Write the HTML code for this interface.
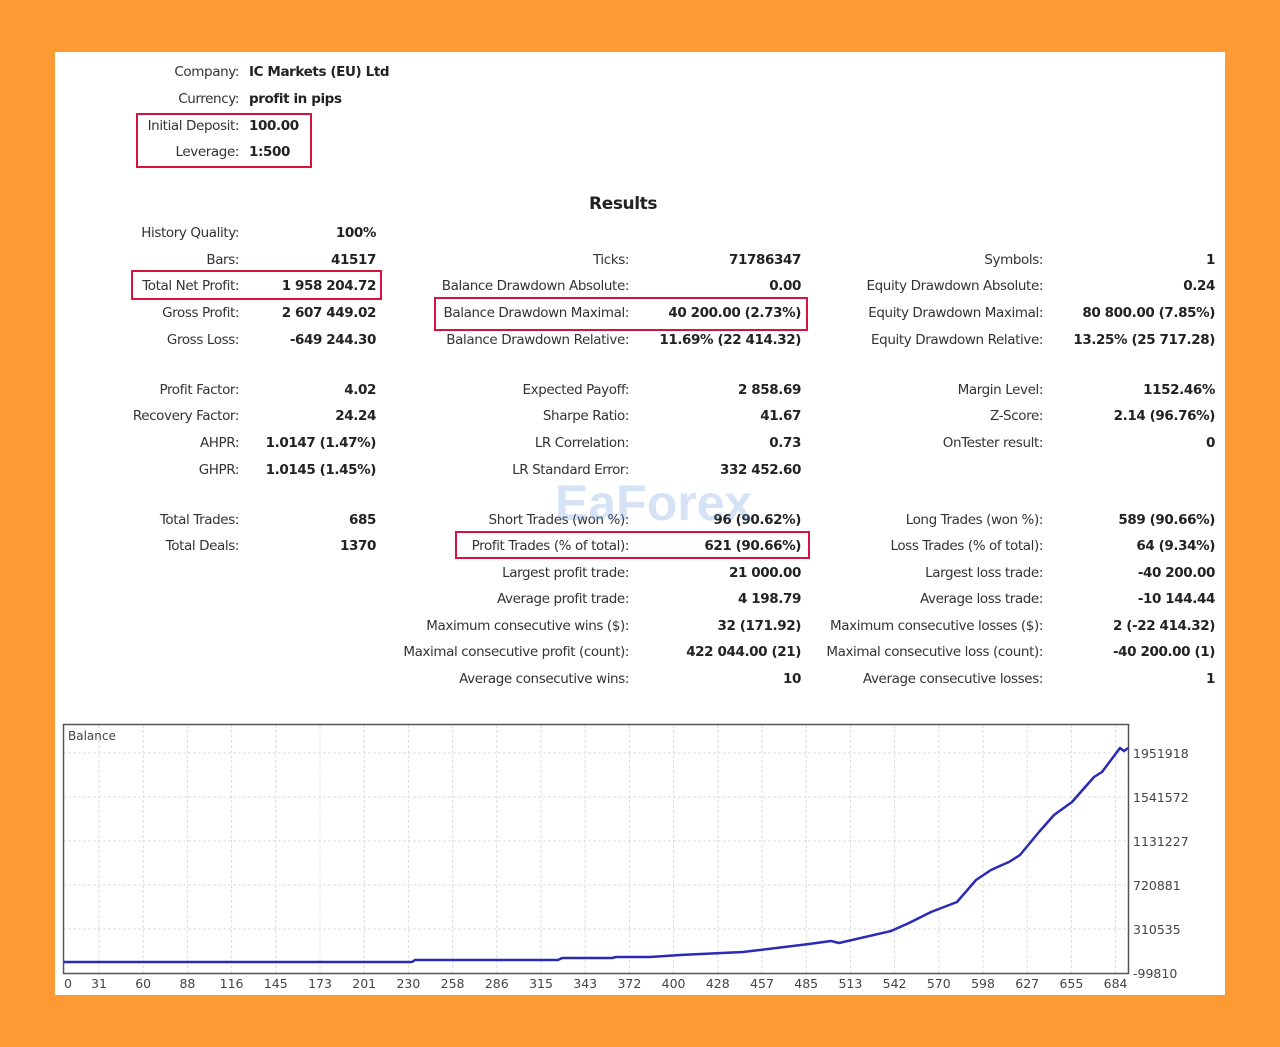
<!DOCTYPE html>
<html><head><meta charset="utf-8"><style>
body{margin:0;width:1280px;height:1047px;background:#fe9a34;position:relative;overflow:hidden;font-family:"DejaVu Sans","Liberation Sans",sans-serif;}
#p{position:absolute;left:55px;top:52px;width:1170px;height:943px;background:#fff;}
.t{position:absolute;font-size:13.5px;line-height:16px;white-space:nowrap;color:#333;letter-spacing:-0.4px}
.l{text-align:right;}
.v{font-weight:bold;color:#222;text-align:right;}
.h{font-weight:bold;color:#222;}
.box{position:absolute;border:2px solid #d8123f;box-sizing:border-box;}
</style></head><body>
<div id="p"></div>
<div id="c"></div>
<svg style="position:absolute;left:0;top:0" width="1280" height="1047">
<g stroke="#ddd" stroke-dasharray="3,2" stroke-width="1">
<line x1="63" y1="753" x2="1128" y2="753"/><line x1="63" y1="797" x2="1128" y2="797"/><line x1="63" y1="841" x2="1128" y2="841"/><line x1="63" y1="885" x2="1128" y2="885"/><line x1="63" y1="929" x2="1128" y2="929"/>
</g>
<g id="vg" stroke="#ddd" stroke-dasharray="3,2"></g>
<rect x="63.5" y="724.5" width="1065" height="249" fill="none" stroke="#555" stroke-width="1.5"/>
<text x="68" y="740" font-size="12" fill="#444" font-family="DejaVu Sans,sans-serif">Balance</text>
<polyline fill="none" stroke="#2a2ab8" stroke-width="2.5" stroke-linejoin="round" points="64,962 412,962 415,960 558,960 562,958 612,958 616,957 650,957 680,955 743,952 809,944 831,941 839,943 891,931 909,923 931,912 957,902 976,880 991,870 1002,865 1009,862 1020,855 1039,832 1054,815 1072,802 1094,777 1102,772 1120,748 1124,751 1128,748"/>
<g font-size="12.5" fill="#444" font-family="DejaVu Sans,sans-serif">
<text x="1133" y="758">1951918</text><text x="1133" y="802">1541572</text><text x="1133" y="846">1131227</text><text x="1133" y="890">720881</text><text x="1133" y="934">310535</text><text x="1133" y="978">-99810</text>
</g>
<g id="xl" font-size="12.5" fill="#444" font-family="DejaVu Sans,sans-serif" text-anchor="middle"></g>
<text x="555" y="520" font-size="50" font-weight="bold" fill="#5a8fe0" fill-opacity="0.25" font-family="Liberation Sans,sans-serif">EaForex</text>
</svg>
<script>
var xs=[0,31,60,88,116,145,173,201,230,258,286,315,343,372,400,428,457,485,513,542,570,598,627,655,684];
var vg='',xl='';
xs.forEach(function(v,i){var x=i==0?68:99+(i-1)*44.2;if(i>0)vg+='<line x1="'+x+'" y1="725" x2="'+x+'" y2="973"/>';xl+='<text x="'+x+'" y="988">'+v+'</text>';});
document.getElementById('vg').innerHTML=vg;document.getElementById('xl').innerHTML=xl;
var rows=[
[239,376,232,"History Quality:","100%"],[239,376,259,"Bars:","41517"],[239,376,285,"Total Net Profit:","1 958 204.72"],[239,376,312,"Gross Profit:","2 607 449.02"],[239,376,339,"Gross Loss:","-649 244.30"],
[239,376,389,"Profit Factor:","4.02"],[239,376,415,"Recovery Factor:","24.24"],[239,376,442,"AHPR:","1.0147 (1.47%)"],[239,376,469,"GHPR:","1.0145 (1.45%)"],
[239,376,519,"Total Trades:","685"],[239,376,545,"Total Deals:","1370"],
[629,801,259,"Ticks:","71786347"],[629,801,285,"Balance Drawdown Absolute:","0.00"],[629,801,312,"Balance Drawdown Maximal:","40 200.00 (2.73%)"],[629,801,339,"Balance Drawdown Relative:","11.69% (22 414.32)"],
[629,801,389,"Expected Payoff:","2 858.69"],[629,801,415,"Sharpe Ratio:","41.67"],[629,801,442,"LR Correlation:","0.73"],[629,801,469,"LR Standard Error:","332 452.60"],
[629,801,519,"Short Trades (won %):","96 (90.62%)"],[629,801,545,"Profit Trades (% of total):","621 (90.66%)"],[629,801,572,"Largest profit trade:","21 000.00"],[629,801,598,"Average profit trade:","4 198.79"],[629,801,625,"Maximum consecutive wins ($):","32 (171.92)"],[629,801,651,"Maximal consecutive profit (count):","422 044.00 (21)"],[629,801,678,"Average consecutive wins:","10"],
[1043,1215,259,"Symbols:","1"],[1043,1215,285,"Equity Drawdown Absolute:","0.24"],[1043,1215,312,"Equity Drawdown Maximal:","80 800.00 (7.85%)"],[1043,1215,339,"Equity Drawdown Relative:","13.25% (25 717.28)"],
[1043,1215,389,"Margin Level:","1152.46%"],[1043,1215,415,"Z-Score:","2.14 (96.76%)"],[1043,1215,442,"OnTester result:","0"],
[1043,1215,519,"Long Trades (won %):","589 (90.66%)"],[1043,1215,545,"Loss Trades (% of total):","64 (9.34%)"],[1043,1215,572,"Largest loss trade:","-40 200.00"],[1043,1215,598,"Average loss trade:","-10 144.44"],[1043,1215,625,"Maximum consecutive losses ($):","2 (-22 414.32)"],[1043,1215,651,"Maximal consecutive loss (count):","-40 200.00 (1)"],[1043,1215,678,"Average consecutive losses:","1"]];
var h='';
rows.forEach(function(r){h+='<div class="t l" style="right:'+(1280-r[0])+'px;top:'+(r[2]-7)+'px">'+r[3]+'</div><div class="t v" style="right:'+(1280-r[1])+'px;top:'+(r[2]-7)+'px">'+r[4]+'</div>';});
[[71,"Company:","IC Markets (EU) Ltd"],[98,"Currency:","profit in pips"],[125,"Initial Deposit:","100.00"],[151,"Leverage:","1:500"]].forEach(function(r){h+='<div class="t l" style="right:1041px;top:'+(r[0]-7)+'px">'+r[1]+'</div><div class="t h" style="left:249px;top:'+(r[0]-7)+'px">'+r[2]+'</div>';});
h+='<div class="t h" style="left:589px;top:194px;font-size:17px;line-height:20px">Results</div>';
h+='<div class="box" style="left:136px;top:113px;width:176px;height:55px"></div><div class="box" style="left:131px;top:270px;width:251px;height:30px"></div><div class="box" style="left:434px;top:297px;width:374px;height:34px"></div><div class="box" style="left:455px;top:531px;width:355px;height:28px"></div>';
document.getElementById('c').innerHTML=h;
</script>
</body></html>
